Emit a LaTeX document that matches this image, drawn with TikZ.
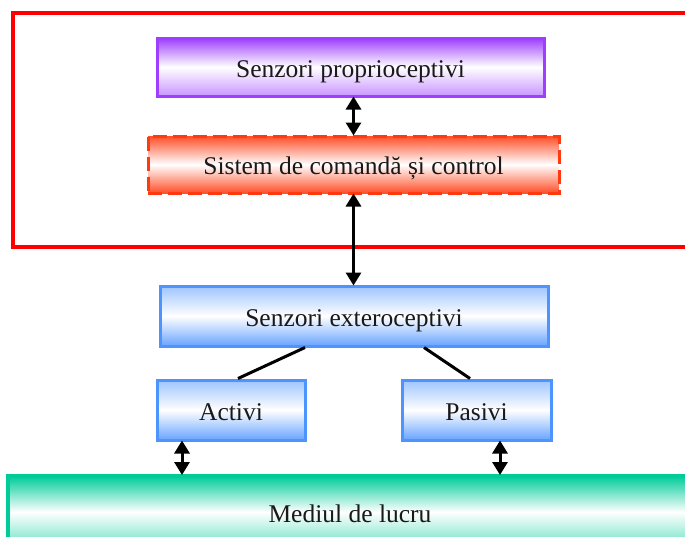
\documentclass[tikz,border=0pt]{standalone}
\usepackage{fontspec}
\setmainfont{Liberation Serif}
\usetikzlibrary{arrows.meta}
\definecolor{cFrame}{HTML}{FF0000}
\definecolor{cViolet}{HTML}{9E3EFF}
\definecolor{cOrange}{HTML}{FF3A10}
\definecolor{cBlue}{HTML}{4D94FF}
\definecolor{cGreen}{HTML}{00CC99}
\begin{document}
\begin{tikzpicture}[x=1pt,y=-1pt,
  box/.style={rectangle, draw, line width=3pt, inner sep=0pt,
    text height=20pt, text depth=0pt,
    font=\fontsize{25.5}{28}\selectfont, text=black!90},
  violetbox/.style={box, draw=cViolet, top color=cViolet, bottom color=cViolet!55, middle color=white},
  redbox/.style={box, draw=cOrange, dash pattern=on 14pt off 6pt, top color=cOrange!90, bottom color=cOrange!90, middle color=white},
  bluebox/.style={box, draw=cBlue, top color=cBlue!55, bottom color=cBlue!85, middle color=white},
  greenbox/.style={box, draw=cGreen, line width=4pt, top color=cGreen, bottom color=cGreen!60, middle color=white},
  biarrow/.style={{Triangle[width=15pt,length=13pt]}-{Triangle[width=15pt,length=13pt]}, line width=3pt},
  link/.style={line width=3pt}
]
\clip (0,0) rectangle (685,536);
% control unit frame, open to the right
\draw[line width=4pt, cFrame] (13,13) rectangle (720,247);

\node[violetbox, minimum width=387pt, minimum height=58pt] (prop) at (350.5,67) {Senzori proprioceptivi};
\node[redbox, minimum width=411pt, minimum height=57pt] (sys) at (353.5,164.5) {Sistem de comandă și control};
\node[bluebox, minimum width=388pt, minimum height=60pt] (ext) at (354,316) {Senzori exteroceptivi};
\node[bluebox, minimum width=148pt, minimum height=60pt] (act) at (231,410) {Activi};
\node[bluebox, minimum width=149pt, minimum height=60pt] (pas) at (476.5,410) {Pasivi};
\node[greenbox, minimum width=684pt, minimum height=72pt] (env) at (350,512) {Mediul de lucru};

\draw[biarrow] ([yshift=1pt]prop.south -| sys.north) -- ([yshift=-1pt]sys.north);
\draw[biarrow] ([yshift=1pt]sys.south) -- ([yshift=-1pt]sys.south |- ext.north);
\draw[link] ([xshift=-49pt]ext.south) -- ([xshift=7pt]act.north);
\draw[link] ([xshift=70pt]ext.south) -- ([xshift=-6.5pt]pas.north);
\draw[biarrow] ([xshift=-49pt,yshift=1pt]act.south) -- ([xshift=-49pt,yshift=-1pt]act.south |- env.north);
\draw[biarrow] ([xshift=23.5pt,yshift=1pt]pas.south) -- ([xshift=23.5pt,yshift=-1pt]pas.south |- env.north);
\end{tikzpicture}
\end{document}
